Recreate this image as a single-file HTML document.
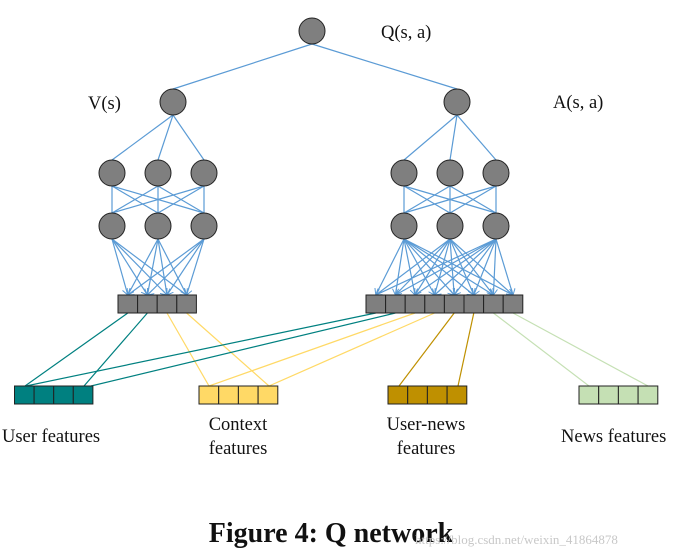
<!DOCTYPE html>
<html><head><meta charset="utf-8"><style>
html,body{margin:0;padding:0;background:#fff;width:694px;height:559px;overflow:hidden}
svg{display:block}
text{font-family:"Liberation Serif",serif;fill:#111}
</style></head><body>
<svg id="s" width="694" height="559" viewBox="0 0 694 559" xmlns="http://www.w3.org/2000/svg">
<defs><marker id="ar" markerWidth="8" markerHeight="8" refX="6" refY="4" orient="auto" markerUnits="userSpaceOnUse"><path d="M0,0 L6,4 L0,8" fill="none" stroke="#5b9bd5" stroke-width="1"/></marker></defs>
<g id="lines"></g><g id="shapes"></g>
<text x="381" y="38" font-size="18.5">Q(s, a)</text>
<text x="88" y="109" font-size="18.5">V(s)</text>
<text x="553" y="108" font-size="18.5">A(s, a)</text>
<text x="2" y="442" font-size="18.5">User features</text>
<text x="238" y="430" font-size="18.5" text-anchor="middle">Context</text>
<text x="238" y="454" font-size="18.5" text-anchor="middle">features</text>
<text x="426" y="430" font-size="18.5" text-anchor="middle">User-news</text>
<text x="426" y="454" font-size="18.5" text-anchor="middle">features</text>
<text x="561" y="442" font-size="18.5">News features</text>
<text x="331" y="542" font-size="28" font-weight="bold" text-anchor="middle">Figure 4: Q network</text>
<text x="415" y="544" font-size="13" style="fill:#c8c8c8">https://blog.csdn.net/weixin_41864878</text>
</svg>
<script>
var NS="http://www.w3.org/2000/svg",L=document.getElementById('lines'),S=document.getElementById('shapes');
function ln(x1,y1,x2,y2,c,m){var e=document.createElementNS(NS,'line');e.setAttribute('x1',x1);e.setAttribute('y1',y1);e.setAttribute('x2',x2);e.setAttribute('y2',y2);e.setAttribute('stroke',c);e.setAttribute('stroke-width','1.2');if(m)e.setAttribute('marker-end','url(#ar)');L.appendChild(e);}
function ci(x,y){var e=document.createElementNS(NS,'circle');e.setAttribute('cx',x);e.setAttribute('cy',y);e.setAttribute('r',13);e.setAttribute('fill','#7f7f7f');e.setAttribute('stroke','#222');e.setAttribute('stroke-width','1');S.appendChild(e);}
function bl(x,y,n,w,h,c){for(var i=0;i<n;i++){var e=document.createElementNS(NS,'rect');e.setAttribute('x',x+i*w);e.setAttribute('y',y);e.setAttribute('width',w);e.setAttribute('height',h);e.setAttribute('fill',c);e.setAttribute('stroke','#222');e.setAttribute('stroke-width','1');S.appendChild(e);}}
var B='#5b9bd5';
ci(312,31);ci(173,102);ci(457,102);
ln(312,44,173,89,B);ln(312,44,457,89,B);
var LX=[112,158,204],RX=[404,450,496];
[[LX,173],[RX,457]].forEach(function(p){var xs=p[0],t=p[1];
xs.forEach(function(x){ln(t,115,x,160,B);ci(x,173);ci(x,226);});
xs.forEach(function(a){xs.forEach(function(b){ln(a,186,b,213,B);});});});
var lc=[],rc=[];for(var i=0;i<4;i++)lc.push(118+19.6*i+9.8);for(i=0;i<8;i++)rc.push(366+19.6*i+9.8);
LX.forEach(function(a){lc.forEach(function(b){ln(a,239,b,295,B,1);});});
RX.forEach(function(a){rc.forEach(function(b){ln(a,239,b,295,B,1);});});
bl(118,295,4,19.6,18,'#7f7f7f');bl(366,295,8,19.6,18,'#7f7f7f');
var T='#008080',Y='#ffd966',G='#bf9000',N='#c5e0b4';
ln(lc[0],313,25,386,T);ln(lc[1],313,84,386,T);ln(lc[2],313,209,386,Y);ln(lc[3],313,269,386,Y);
ln(rc[0],313,26,386,T);ln(rc[1],313,91,386,T);ln(rc[2],313,209,386,Y);ln(rc[3],313,269,386,Y);
ln(rc[4],313,399,386,G);ln(rc[5],313,458,386,G);ln(rc[6],313,589,386,N);ln(rc[7],313,648,386,N);
bl(14.5,386,4,19.6,18,T);bl(199,386,4,19.7,18,Y);bl(388,386,4,19.7,18,G);bl(579,386,4,19.7,18,N);
</script>
</body></html>
